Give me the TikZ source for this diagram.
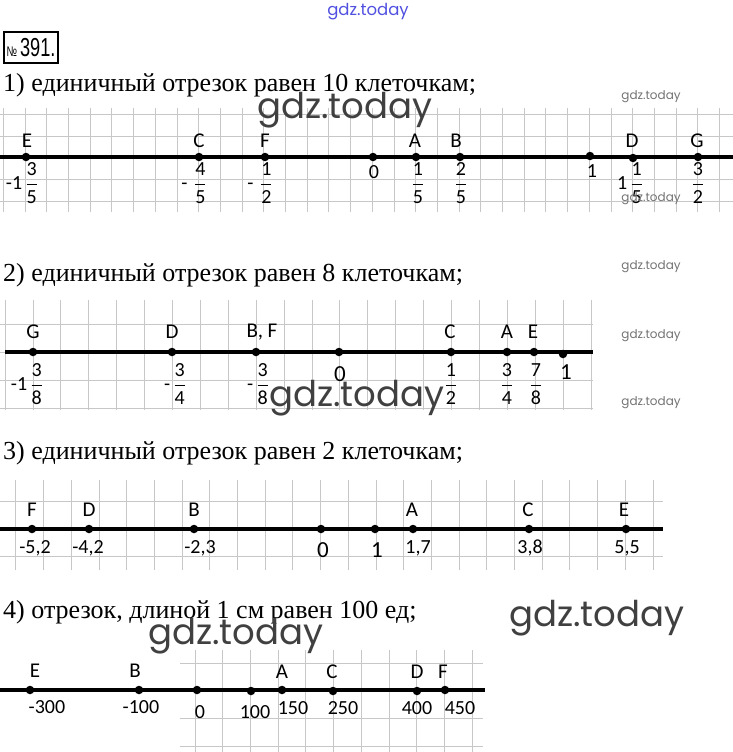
\documentclass[tikz,border=0pt]{standalone}
\usepackage{amsmath}
\usepackage{fontspec}
\setmainfont{Liberation Serif}
\newfontfamily\lblfont{Carlito}
\newfontfamily\wmfont{Poppins}
\newfontfamily\boxfont{Liberation Sans}
\usepackage{tikz}
\usetikzlibrary{positioning}
\definecolor{wmblue}{RGB}{80,80,225}
\newcommand{\fr}[2]{$\genfrac{}{}{1pt}{0}{\text{#1}}{\text{#2}}$}

\begin{document}
\begin{tikzpicture}[x=1pt,y=-1pt,
    gridline/.style={black!22,line width=0.8pt},
    axis/.style={line width=3.2pt,black},
    pt/.style={circle,fill=black,inner sep=0pt,minimum size=8.5pt},
    letter/.style={font=\lblfont\fontsize{21}{21}\selectfont,inner sep=0pt},
    num/.style={font=\lblfont\fontsize{20}{20}\selectfont,inner sep=0pt},
    bignum/.style={font=\lblfont\fontsize{23}{23}\selectfont,inner sep=0pt},
    task/.style={font=\fontsize{26}{28}\selectfont,anchor=west,inner sep=0pt},
    wmbig/.style={font=\wmfont\fontsize{35.5}{35.5}\selectfont,black!75,inner sep=0pt},
    wmsmall/.style={font=\wmfont\fontsize{12}{12}\selectfont,black!55,inner sep=0pt}]
    \useasboundingbox (0,0) rectangle (733,752);

    % Title
    \node[draw,line width=1.2pt,minimum width=54pt,minimum height=31pt,inner sep=0pt,
          font=\boxfont\fontsize{26}{26}\selectfont] (title) at (31,47.5)
        {\scalebox{0.7}[1]{{\fontsize{14}{14}\selectfont\textnumero}\,391.}};

    % Task 1
    \node[task] (task1) at (3,85) {1) единичный отрезок равен 10 клеточкам;};
    \foreach \k in {0,...,33} \draw[gridline] (3.3+21.7*\k,108) -- (3.3+21.7*\k,212);
    \foreach \y in {114,136,157,179,201} \draw[gridline] (0,\y) -- (733,\y);
    \coordinate (a1s) at (0,157);
    \coordinate (a1e) at (733,157);
    \draw[axis] (a1s) -- (a1e);
    \node[pt] (E1) at (26,157) {};
    \node[pt] (C1) at (199,157) {};
    \node[pt] (F1) at (265,157) {};
    \node[pt] (O1) at (373,157) {};
    \node[pt] (A1) at (416,157) {};
    \node[pt] (B1) at (460,157) {};
    \node[pt] (U1) at (590,156) {};
    \node[pt] (D1) at (633,158) {};
    \node[pt] (G1) at (698,157) {};
    \node[letter] (lE1) at (27,141) {E};
    \node[letter] (lC1) at (199,141) {C};
    \node[letter] (lF1) at (265,141) {F};
    \node[letter] (lA1) at (415,141) {A};
    \node[letter] (lB1) at (456,141) {B};
    \node[letter] (lD1) at (632,141) {D};
    \node[letter] (lG1) at (697,141) {G};
    \node[num] (nE1) at (22,183) {-1\,\fr{3}{5}};
    \node[num] (nC1) at (194,183) {-\,\,\fr{4}{5}};
    \node[num] (nF1) at (260,183) {-\,\,\fr{1}{2}};
    \node[num] (nO1) at (374,172) {0};
    \node[num] (nA1) at (418,183) {\fr{1}{5}};
    \node[num] (nB1) at (461,183) {\fr{2}{5}};
    \node[num] (nU1) at (592,171) {1};
    \node[num] (nD1) at (630,183) {1\,\fr{1}{5}};
    \node[num] (nG1) at (698,183) {\fr{3}{2}};

    % Task 2
    \node[task] (task2) at (3,275) {2) единичный отрезок равен 8 клеточкам;};
    \foreach \k in {0,...,21} \draw[gridline] (5+27.9*\k,300) -- (5+27.9*\k,410);
    \foreach \y in {324,352,380,408} \draw[gridline] (0,\y) -- (593,\y);
    \coordinate (a2s) at (5,352);
    \coordinate (a2e) at (593,352);
    \draw[axis] (a2s) -- (a2e);
    \node[pt] (G2) at (33,352) {};
    \node[pt] (D2) at (172,352) {};
    \node[pt] (BF2) at (256,352) {};
    \node[pt] (O2) at (339,352) {};
    \node[pt] (C2) at (451,352) {};
    \node[pt] (A2) at (507,352) {};
    \node[pt] (E2) at (534,352) {};
    \node[pt] (U2) at (563,354) {};
    \node[letter] (lG2) at (33,332) {G};
    \node[letter] (lD2) at (172,332) {D};
    \node[letter] (lBF2) at (262,332) {B, F};
    \node[letter] (lC2) at (450,332) {C};
    \node[letter] (lA2) at (507,332) {A};
    \node[letter] (lE2) at (533,332) {E};
    \node[num] (nG2) at (27,384) {-1\,\fr{3}{8}};
    \node[num] (nD2) at (175,384) {-\,\fr{3}{4}};
    \node[num] (nBF2) at (258,384) {-\,\fr{3}{8}};
    \node[bignum] (nO2) at (340,374) {0};
    \node[num] (nC2) at (451,384) {\fr{1}{2}};
    \node[num] (nA2) at (507,384) {\fr{3}{4}};
    \node[num] (nE2) at (536,384) {\fr{7}{8}};
    \node[bignum] (nU2) at (566,372) {1};

    % Task 3
    \node[task] (task3) at (3,453) {3) единичный отрезок равен 2 клеточкам;};
    \foreach \k in {0,...,23} \draw[gridline] (15.8+27.7*\k,480) -- (15.8+27.7*\k,570);
    \foreach \y in {501,529,556} \draw[gridline] (0,\y) -- (663,\y);
    \coordinate (a3s) at (0,529);
    \coordinate (a3e) at (663,529);
    \draw[axis] (a3s) -- (a3e);
    \node[pt] (F3) at (32,529) {};
    \node[pt] (D3) at (89,529) {};
    \node[pt] (B3) at (194,529) {};
    \node[pt] (O3) at (321,529) {};
    \node[pt] (U3) at (375,529) {};
    \node[pt] (A3) at (413,529) {};
    \node[pt] (C3) at (529,529) {};
    \node[pt] (E3) at (626,529) {};
    \node[letter] (lF3) at (32,510) {F};
    \node[letter] (lD3) at (89,510) {D};
    \node[letter] (lB3) at (194,510) {B};
    \node[letter] (lA3) at (412,510) {A};
    \node[letter] (lC3) at (528,510) {C};
    \node[letter] (lE3) at (624,510) {E};
    \node[num] (nF3) at (35,548) {-5,2};
    \node[num] (nD3) at (88,548) {-4,2};
    \node[num] (nB3) at (200,548) {-2,3};
    \node[bignum] (nO3) at (323,550) {0};
    \node[bignum] (nU3) at (377,550) {1};
    \node[num] (nA3) at (418,548) {1,7};
    \node[num] (nC3) at (530,548) {3,8};
    \node[num] (nE3) at (627,548) {5,5};

    % Task 4
    \node[task] (task4) at (3,612) {4) отрезок, длиной 1 см равен 100 ед;};
    \foreach \k in {0,...,10} \draw[gridline] (195+27.7*\k,650) -- (195+27.7*\k,752);
    \foreach \y in {663,690,718,746} \draw[gridline] (180,\y) -- (483,\y);
    \coordinate (a4s) at (0,690);
    \coordinate (a4e) at (485,690);
    \draw[axis] (a4s) -- (a4e);
    \node[pt] (E4) at (30,690) {};
    \node[pt] (B4) at (139,690) {};
    \node[pt] (O4) at (197,690) {};
    \node[pt] (H4) at (251,691) {};
    \node[pt] (A4) at (282,690) {};
    \node[pt] (C4) at (333,691) {};
    \node[pt] (D4) at (417,691) {};
    \node[pt] (F4) at (445,690) {};
    \node[letter] (lE4) at (35,671) {E};
    \node[letter] (lB4) at (135,671) {B};
    \node[letter] (lA4) at (282,672) {A};
    \node[letter] (lC4) at (332,672) {C};
    \node[letter] (lD4) at (417,672) {D};
    \node[letter] (lF4) at (443,672) {F};
    \node[num] (nE4) at (47,707) {-300};
    \node[num] (nB4) at (141,707) {-100};
    \node[num] (nO4) at (200,712) {0};
    \node[num] (nH4) at (255,712) {100};
    \node[num] (nA4) at (293,708) {150};
    \node[num] (nC4) at (343,708) {250};
    \node[num] (nD4) at (417,708) {400};
    \node[num] (nF4) at (460,708) {450};

    % Watermarks
    \node[font=\wmfont\fontsize{16.5}{16.5}\selectfont,wmblue,inner sep=0pt] (wm0) at (368,12) {gdz.today};
    \node[wmbig] (wm1) at (345,110) {gdz.today};
    \node[wmbig] (wm2) at (357,398) {gdz.today};
    \node[wmbig] (wm3) at (236,636) {gdz.today};
    \node[wmbig] (wm4) at (597,618) {gdz.today};
    \node[wmsmall] (wm5) at (651,97) {gdz.today};
    \node[wmsmall] (wm6) at (651,199) {gdz.today};
    \node[wmsmall] (wm7) at (651,267) {gdz.today};
    \node[wmsmall] (wm8) at (651,336) {gdz.today};
    \node[wmsmall] (wm9) at (651,403) {gdz.today};
\end{tikzpicture}
\end{document}
